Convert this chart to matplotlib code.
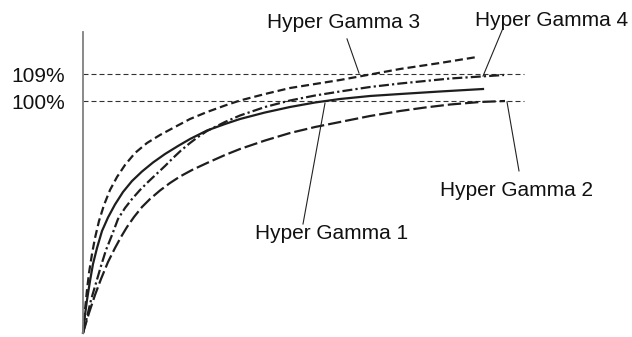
import matplotlib
matplotlib.use("Agg")
import matplotlib.pyplot as plt

# curve readings: time (arbitrary units) vs percent of reference
t_hg3 = [0, 0.5, 1, 1.5, 2.25, 3, 4, 5.25, 6.75, 8.5, 10.5, 13, 16, 19.25, 22.5, 26.75,
         31, 35.5, 39.25, 45.5, 51.75, 58, 64.25, 71.75, 79.25, 89.25, 98.5]
y_hg3 = [22.67, 30.33, 37.0, 42.67, 49.0, 54.33, 60.0, 65.33, 70.33, 74.67, 78.67, 82.67,
         86.0, 88.67, 91.0, 94.0, 96.33, 98.5, 100.17, 102.33, 104.33, 105.67, 107.0,
         108.83, 110.67, 112.67, 114.67]

t_hg1 = [0, 0.5, 1, 1.75, 2.5, 3.5, 4.75, 6.25, 8, 10, 12.25, 14.75, 17.5, 20.5, 23.75,
         26.75, 31, 35.5, 39.25, 45.5, 51.75, 58, 64.25, 71.75, 79.25, 89.25, 100]
y_hg1 = [22.67, 28.67, 33.67, 40.0, 45.67, 51.0, 56.67, 61.17, 65.5, 69.67, 73.33, 76.5,
         79.5, 82.33, 85.0, 87.33, 90.17, 92.33, 94.0, 96.17, 98.0, 99.5, 100.67,
         101.67, 102.33, 103.17, 104.0]

t_hg4 = [0, 1, 2, 3.25, 4.5, 5.75, 7.25, 8.75, 10.5, 12.25, 14.25, 16.25, 18.5, 20.5,
         22.5, 24.5, 26.75, 28.75, 31, 35.5, 39.25, 45.5, 51.75, 58, 64.25, 71.75, 79.25,
         91.75, 105.25]
y_hg4 = [22.67, 28.0, 33.67, 39.33, 45.0, 50.33, 55.33, 60.67, 64.33, 67.33, 70.33, 73.0,
         75.83, 78.33, 81.0, 83.5, 86.0, 88.0, 90.0, 93.0, 95.17, 98.0, 100.17, 101.83,
         103.17, 104.67, 105.83, 107.5, 108.67]

t_hg2 = [0, 1.5, 3, 4.5, 6.25, 8, 9.5, 11, 12.75, 14.75, 16.75, 19.25, 21.75, 24.25,
         27.25, 31, 35.5, 39.25, 45.5, 51.75, 58, 64.25, 71.75, 79.25, 85.5, 91.75, 99.25,
         105.5]
y_hg2 = [22.67, 29.33, 35.33, 40.67, 46.33, 51.0, 54.67, 58.0, 61.33, 64.67, 67.33, 70.17,
         72.67, 74.83, 77.0, 79.33, 82.0, 84.0, 86.83, 89.33, 91.33, 93.0, 95.0, 96.67,
         97.83, 98.83, 99.67, 100.0]

ref_levels = [100, 109]
ref_labels = ["100%", "109%"]
ref_end = 110.25

# label text position and leader line (from, to)
labels = ["Hyper Gamma 3", "Hyper Gamma 4", "Hyper Gamma 1", "Hyper Gamma 2"]
label_xy = [(65.25, 126.3), (117.25, 126.7), (62.25, 55.7), (108.5, 70.3)]
leader_from = [(66, 120.7), (105, 124.3), (55, 59.0), (109, 76.7)]
leader_to = [(69, 109.3), (100, 108.3), (60.5, 99.3), (106, 99.7)]

plt.rcParams["font.family"] = ["Liberation Sans", "DejaVu Sans"]

fig = plt.figure(figsize=(6.32, 3.37), dpi=100)
ax = fig.add_axes([0, 0, 1, 1])
ax.set_xlim(-20.75, 137.25)
ax.set_ylim(21.33, 133.67)

col = "#1e1e1e"
for lvl in ref_levels:
    ax.plot([0, ref_end], [lvl, lvl], color="#333333", lw=0.8, dashes=(4.5, 2.7))

kw = dict(color=col, lw=1.6, solid_joinstyle="round", dash_joinstyle="round")
ax.plot(t_hg2, y_hg2, dashes=(6, 1.8), **kw)
ax.plot(t_hg4, y_hg4, dashes=(4.5, 1.4, 1, 1.4), **kw)
ax.plot(t_hg1, y_hg1, **kw)
ax.plot(t_hg3, y_hg3, dashes=(3.6, 1.8), **kw)

for lab, (tx, ty), a, b in zip(labels, label_xy, leader_from, leader_to):
    ax.plot([a[0], b[0]], [a[1], b[1]], color="#222222", lw=0.8)
    ax.text(tx, ty, lab, fontsize=15, ha="center", va="center", color="#111111")

for s in ["top", "right", "bottom"]:
    ax.spines[s].set_visible(False)
ax.spines["left"].set_position(("data", 0))
ax.spines["left"].set_bounds(22.7, 123)
ax.spines["left"].set_color("#808080")
ax.spines["left"].set_linewidth(1.3)
ax.set_xticks([])
ax.set_yticks(ref_levels)
ax.set_yticklabels(ref_labels, fontsize=15, color="#111111")
ax.tick_params(axis="y", length=0, pad=13)

fig.savefig("out.png", dpi=100)
